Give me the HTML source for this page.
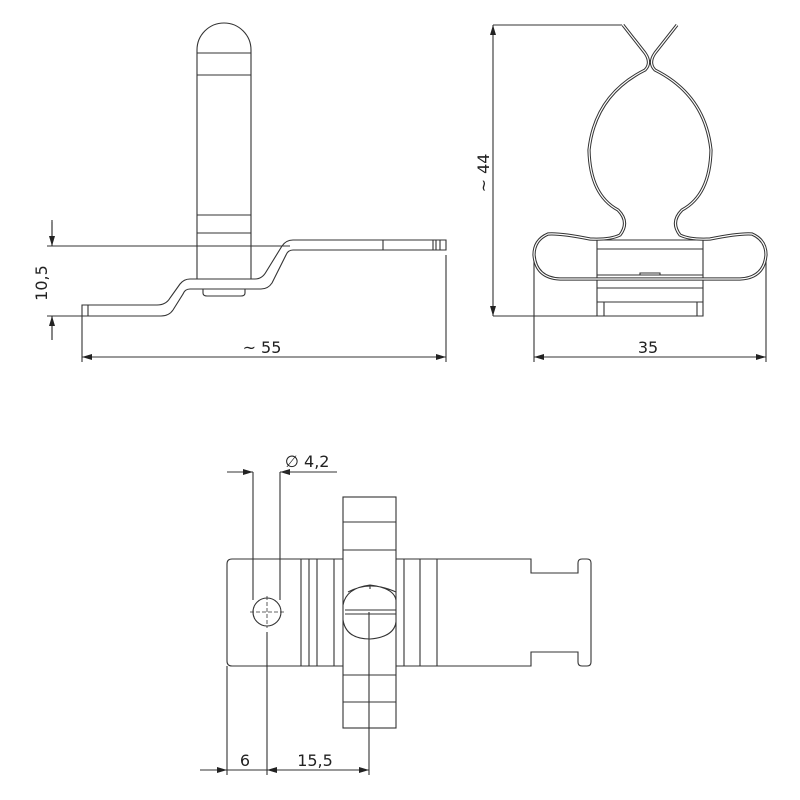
<!DOCTYPE html>
<html><head><meta charset="utf-8"><style>body{margin:0;background:#fff}svg{display:block}text{font-family:"DejaVu Sans","Liberation Sans",sans-serif;font-size:16px;fill:#222}</style></head><body>
<svg width="800" height="800" viewBox="0 0 800 800" xmlns="http://www.w3.org/2000/svg">
<defs><marker id="a" viewBox="0 0 10 6" refX="10" refY="3" markerWidth="10" markerHeight="6" orient="auto-start-reverse" markerUnits="userSpaceOnUse"><path d="M0,0L10,3L0,6z" fill="#222"/></marker></defs>
<g fill="none" stroke="#333" stroke-width="1.1">
<!-- side view -->
<path d="M197,279V50A27,27 0 0 1 251,50V279"/>
<path d="M197,53H251M197,75H251M197,215H251M197,233H251"/>
<path d="M82,305H157Q166,305 170,298L180,284Q184,279 190,279H255Q262,279 266,272L282,246Q286,240 293,240H446V250H293Q288,250 286,255L272,283Q268,289 261,289H190Q185,289 183,294L173,310Q169,316 161,316H82Z"/>
<path d="M88,305V316M383,240V250M433,240V250M436,240V250M440,240V250"/>
<path d="M203,289V293Q203,296 207,296H241Q245,296 245,293V289"/>
<path d="M47,246H290M47,316H82M52,220V246M52,316V340M82,316V362M446,255V362"/>
<path d="M52,222V246" marker-end="url(#a)"/>
<path d="M52,340V316" marker-end="url(#a)"/>
<path d="M82,357H446" marker-start="url(#a)" marker-end="url(#a)"/>
<!-- front view -->
<path d="M493,25V316" marker-start="url(#a)" marker-end="url(#a)"/>
<path d="M493,25H622M493,316H597M534,260V362M766,260V362"/>
<path d="M534,357H766" marker-start="url(#a)" marker-end="url(#a)"/>
<path d="M597,240H703V316H597ZM597,249H703M597,275H703M597,288H703M597,302H703M604,302V316M697,302V316M640,275V273H660V275"/>
<g stroke-width="3.2"><path d="M623,25L645,53Q652,63 645,70Q595,95 589,150Q590,195 618,210Q630,222 620,235Q610,240 590,239Q560,233 548,234Q534,240 534,255Q536,278 560,279H740Q764,278 766,255Q766,240 752,234Q740,233 710,239Q690,240 680,235Q670,222 682,210Q710,195 711,150Q705,95 655,70Q648,63 655,53L677,25"/></g>
<g stroke="#fff" stroke-width="1.2"><path d="M623,25L645,53Q652,63 645,70Q595,95 589,150Q590,195 618,210Q630,222 620,235Q610,240 590,239Q560,233 548,234Q534,240 534,255Q536,278 560,279H740Q764,278 766,255Q766,240 752,234Q740,233 710,239Q690,240 680,235Q670,222 682,210Q710,195 711,150Q705,95 655,70Q648,63 655,53L677,25"/></g>
<!-- top view -->
<path d="M232,559H531V573H578V563Q578,559 582,559H587Q591,559 591,563V662Q591,666 587,666H582Q578,666 578,662V652H531V666H232Q227,666 227,661V564Q227,559 232,559Z"/>
<path d="M301,559V666M309,559V666M317,559V666M334,559V666M404,559V666M420,559V666M437,559V666"/>
<rect x="343" y="497" width="53" height="231" fill="#fff"/>
<path d="M343,522H396M343,550H396M343,675H396M343,702H396"/>
<path d="M348,592Q370,580 396,592M343,605Q346,588 370,585Q394,588 396,600M343,620Q346,639 370,639Q394,637 396,622M345,610H396M345,614H396M370,585V589"/>
<circle cx="267" cy="612" r="14"/>
<path d="M250,612H284M267,596V628" stroke-dasharray="4,2" stroke-width="0.8"/>
<path d="M253,472V600M280,472V600M227,666V775M267,632V775M369,612V775"/>
<path d="M227,472H253" marker-end="url(#a)"/>
<path d="M300,472H280" marker-end="url(#a)"/>
<path d="M280,472H337"/>
<path d="M200,770H227" marker-end="url(#a)"/>
<path d="M227,770H369" marker-end="url(#a)"/>
<path d="M300,770H267" marker-end="url(#a)"/>
</g>
<text x="262" y="353" text-anchor="middle">~ 55</text>
<text x="648" y="353" text-anchor="middle">35</text>
<text transform="translate(47,283) rotate(-90)" text-anchor="middle">10,5</text>
<text transform="translate(489,173) rotate(-90)" text-anchor="middle">~ 44</text>
<text x="285" y="467">∅ 4,2</text>
<text x="245" y="766" text-anchor="middle">6</text>
<text x="315" y="766" text-anchor="middle">15,5</text>
</svg>
</body></html>
